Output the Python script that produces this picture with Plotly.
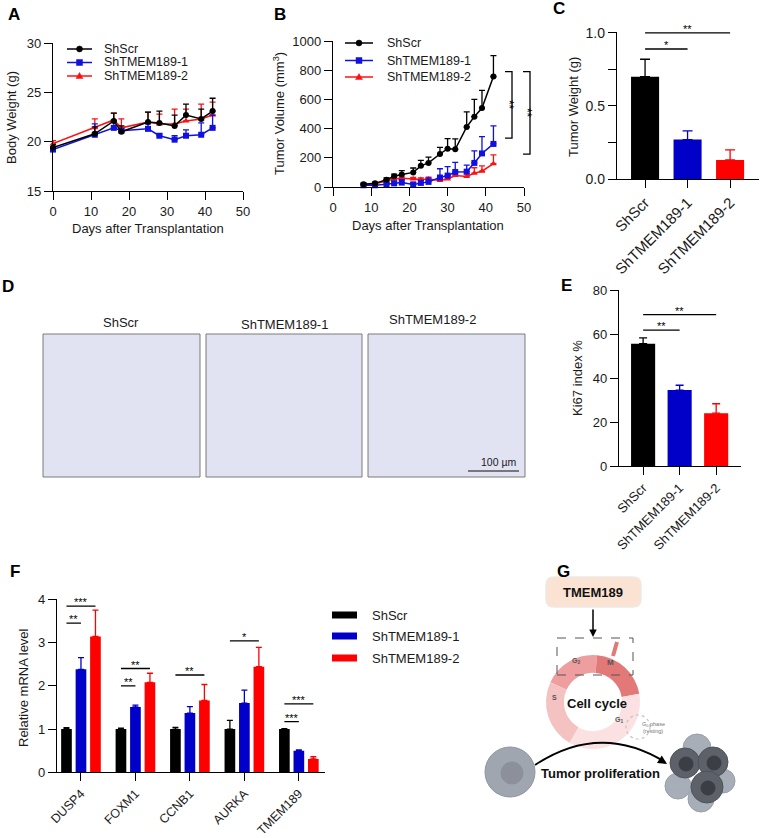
import plotly.graph_objects as go

W, H = 765, 838
FONT = "Arial, Liberation Sans, sans-serif"

groups = ["ShScr", "ShTMEM189-1", "ShTMEM189-2"]
line_colors = ["#000000", "#1010e0", "#ff1010"]
bar_colors = ["#000000", "#0000c8", "#ff0000"]
symbols = ["circle", "square", "triangle-up"]

# A: body weight (g), mean + upper error
days_a = [0, 11, 16, 18, 25, 28, 32, 35, 39, 42]
weight_scr = [19.4, 20.8, 22.1, 21.0, 22.0, 21.9, 21.6, 22.7, 22.3, 23.1]
weight_sh1 = [19.2, 20.7, 21.4, 21.1, 21.3, 20.6, 20.2, 20.6, 20.7, 21.4]
weight_sh2 = [19.8, 21.4, 22.2, 21.4, 22.0, 21.8, 21.8, 22.1, 22.3, 22.7]
weight_scr_err = [0.3, 0.7, 0.8, 0.6, 1.0, 1.2, 1.1, 1.1, 1.0, 1.3]
weight_sh1_err = [0.2, 1.1, 0.6, 0.2, 0.5, 0.2, 0.4, 0.6, 1.2, 1.3]
weight_sh2_err = [0.3, 0.9, 0.7, 0.9, 1.0, 1.0, 1.5, 1.2, 1.5, 1.3]

# B: tumor volume (mm3)
days_b = [8, 11, 14, 16, 18, 21, 23, 25, 28, 30, 32, 35, 37, 39, 42]
vol_scr = [18, 25, 50, 73, 85, 100, 145, 165, 226, 262, 258, 411, 482, 541, 757]
vol_sh1 = [12, 12, 18, 25, 30, 18, 28, 35, 65, 78, 103, 105, 165, 230, 295]
vol_sh2 = [15, 20, 42, 55, 60, 55, 52, 55, 45, 55, 78, 72, 95, 108, 160]
vol_scr_err = [7, 8, 12, 15, 27, 30, 37, 40, 46, 69, 72, 103, 118, 121, 143]
vol_sh1_err = [6, 6, 12, 15, 20, 12, 17, 27, 60, 62, 65, 45, 83, 115, 123]
vol_sh2_err = [5, 10, 8, 10, 10, 10, 10, 13, 15, 20, 14, 18, 37, 37, 60]
vol_brackets = [(790, 335, "**"), (790, 225, "**")]

# C: tumor weight (g)
tumor_weight = [0.70, 0.27, 0.13]
tumor_weight_err = [0.12, 0.06, 0.07]
c_sig = [(0, 2, 1.0, "**"), (0, 1, 0.89, "*")]

# E: Ki67 index %
ki67 = [55.6, 34.5, 24.0]
ki67_err = [2.6, 2.2, 4.3]
e_sig = [(0, 2, 68.8, "**"), (0, 1, 61.8, "**")]

# F: relative mRNA level
genes = ["DUSP4", "FOXM1", "CCNB1", "AURKA", "TMEM189"]
mrna_scr = [1.0, 1.0, 1.0, 1.0, 1.0]
mrna_sh1 = [2.38, 1.51, 1.37, 1.60, 0.50]
mrna_sh2 = [3.14, 2.08, 1.66, 2.44, 0.31]
mrna_scr_err = [0.03, 0.02, 0.04, 0.20, 0.01]
mrna_sh1_err = [0.27, 0.045, 0.15, 0.30, 0.02]
mrna_sh2_err = [0.61, 0.21, 0.37, 0.45, 0.05]
f_sig = [(0, 0, 2, 3.84, "***"), (0, 0, 1, 3.45, "**"),
         (1, 0, 2, 2.40, "**"), (1, 0, 1, 2.00, "**"),
         (2, 0, 2, 2.25, "**"),
         (3, 0, 2, 3.04, "*"),
         (4, 0, 2, 1.58, "***"), (4, 0, 1, 1.17, "***")]

# G: cell cycle ring (clockwise from G2)
phase_names = ["G2", "M", "G1", "S"]
phase_sizes = [70, 75, 130, 85]
phase_colors = ["#ee9e9e", "#e27878", "#fbe1e1", "#f5c2c2"]

bar_offsets = [-0.266, 0.0, 0.266]

fig = go.Figure()
ann = []
shapes = []


def X(p):
    return p / W


def Y(p):
    return 1 - p / H


def label(xp, yp, s, size=13, bold=False, xanchor="center", angle=0, color="#1a1a1a"):
    if bold:
        s = "<b>" + s + "</b>"
    ann.append(dict(x=X(xp), y=Y(yp), xref="paper", yref="paper", text=s, showarrow=False,
                    font=dict(size=size, color=color, family=FONT), xanchor=xanchor,
                    yanchor="middle", textangle=angle))


def up_err(err, color, width=3):
    return dict(type="data", symmetric=False, array=err, arrayminus=[0] * len(err),
                color=color, thickness=1.3, width=width)


def ax(**kw):
    d = dict(showline=True, linecolor="black", linewidth=1.3, ticks="outside", ticklen=8,
             tickwidth=1.3, tickcolor="black", showgrid=False, zeroline=False, automargin=False,
             tickfont=dict(size=13, color="#1a1a1a", family=FONT), fixedrange=True)
    d.update(kw)
    return d


# ---- A and B line charts
a_series = [(weight_scr, weight_scr_err), (weight_sh1, weight_sh1_err), (weight_sh2, weight_sh2_err)]
b_series = [(vol_scr, vol_scr_err), (vol_sh1, vol_sh1_err), (vol_sh2, vol_sh2_err)]
for i in [2, 1, 0]:
    for days, series, xa, ya in [(days_a, a_series, "x", "y"), (days_b, b_series, "x2", "y2")]:
        vals, err = series[i]
        fig.add_trace(go.Scatter(
            x=days, y=vals, mode="lines+markers", name=groups[i], xaxis=xa, yaxis=ya,
            line=dict(color=line_colors[i], width=1.5),
            marker=dict(symbol=symbols[i], size=6, color=line_colors[i]),
            error_y=up_err(err, line_colors[i]), cliponaxis=False, showlegend=False))

# ---- C and E bars
for i in range(3):
    fig.add_trace(go.Bar(x=[i], y=[tumor_weight[i]], width=0.66, xaxis="x3", yaxis="y3",
                         marker=dict(color=bar_colors[i], line=dict(width=0)),
                         error_y=up_err([tumor_weight_err[i]], bar_colors[i], 5), showlegend=False))
    fig.add_trace(go.Bar(x=[i], y=[ki67[i]], width=0.66, xaxis="x4", yaxis="y4",
                         marker=dict(color=bar_colors[i], line=dict(width=0)),
                         error_y=up_err([ki67_err[i]], bar_colors[i], 4), showlegend=False))

# ---- F grouped bars
f_series = [(mrna_scr, mrna_scr_err), (mrna_sh1, mrna_sh1_err), (mrna_sh2, mrna_sh2_err)]
for i, (vals, err) in enumerate(f_series):
    fig.add_trace(go.Bar(x=[g + bar_offsets[i] for g in range(len(genes))], y=vals, width=0.196,
                         xaxis="x5", yaxis="y5", marker=dict(color=bar_colors[i], line=dict(width=0)),
                         error_y=up_err(err, bar_colors[i], 3), showlegend=False))


# ---- significance marks
def sig_line(xa, ya, x0, x1, y, s, size=11):
    shapes.append(dict(type="line", xref=xa, yref=ya, x0=x0, x1=x1, y0=y, y1=y,
                       line=dict(color="black", width=1.3)))
    ann.append(dict(x=(x0 + x1) / 2, y=y, xref=xa, yref=ya, text=s, showarrow=False,
                    font=dict(size=size, color="black", family=FONT), yanchor="bottom", yshift=-4))


for a, b, y, s in c_sig:
    sig_line("x3", "y3", a, b, y, s)
for a, b, y, s in e_sig:
    sig_line("x4", "y4", a, b, y, s)
for g, a, b, y, s in f_sig:
    sig_line("x5", "y5", g + bar_offsets[a], g + bar_offsets[b], y, s)

for k, (top, bot, s) in enumerate(vol_brackets):
    xb = [512, 530][k]
    shapes.append(dict(type="path", xref="paper", yref="y2",
                       path=f"M{X(xb - 7)},{top}L{X(xb)},{top}L{X(xb)},{bot}L{X(xb - 7)},{bot}",
                       line=dict(color="black", width=1.3)))
    ann.append(dict(x=X(xb + 6), y=(top + bot) / 2, xref="paper", yref="y2", text=s, showarrow=False,
                    textangle=90, font=dict(size=12, color="black", family=FONT)))


# ---- legends
def line_legend(x0, x1, xt, ys):
    for i, y in enumerate(ys):
        c = line_colors[i]
        shapes.append(dict(type="line", xref="paper", yref="paper", x0=X(x0), x1=X(x1), y0=Y(y), y1=Y(y),
                           line=dict(color=c, width=1.5)))
        m = dict(xref="paper", yref="paper", xsizemode="pixel", ysizemode="pixel",
                 xanchor=X((x0 + x1) / 2), yanchor=Y(y), fillcolor=c, line=dict(color=c, width=0.5))
        if symbols[i] == "circle":
            m.update(type="circle", x0=-3, x1=3, y0=-3, y1=3)
        elif symbols[i] == "square":
            m.update(type="rect", x0=-3, x1=3, y0=-3, y1=3)
        else:
            m.update(type="path", path="M-3.5,-2.5L3.5,-2.5L0,3.5Z")
        shapes.append(m)
        label(xt, y, groups[i], 12.5, xanchor="left")


line_legend(67, 92, 102, [49, 62.5, 76])
line_legend(345, 373, 385, [43, 60.5, 77])
for i, y in enumerate([615, 636, 658]):
    shapes.append(dict(type="rect", xref="paper", yref="paper", x0=X(332), x1=X(357), y0=Y(y + 3.5),
                       y1=Y(y - 3.5), fillcolor=bar_colors[i], line=dict(width=0)))
    label(370, y, groups[i], 13, xanchor="left")

# ---- axis titles and panel letters
label(11, 118, "Body Weight (g)", angle=-90)
label(148, 228, "Days after Transplantation")
label(279, 114, "Tumor Volume (mm<sup>3</sup>)", angle=-90)
label(428, 226, "Days after Transplantation")
label(573, 107, "Tumor Weight (g)", angle=-90)
label(578, 378, "Ki67 index %", angle=-90)
label(23, 688, "Relative mRNA level", angle=-90)
for s, xp, yp in [("A", 14, 15), ("B", 280, 15), ("C", 559, 9), ("D", 8, 286),
                  ("E", 566, 285), ("F", 15, 571), ("G", 563, 571)]:
    label(xp, yp, s, 17, True, color="black")

# ---- D: IHC image panels
for (x0, x1), xt, yt, t in zip([(43, 200), (206, 362), (368, 525)], [121, 284, 432], [322, 324, 320], groups):
    shapes.append(dict(type="rect", xref="paper", yref="paper", x0=X(x0), x1=X(x1), y0=Y(477), y1=Y(334),
                       fillcolor="#e2e3f2", line=dict(color="#7a7a7a", width=1)))
    label(xt, yt, t, 13)
shapes.append(dict(type="line", xref="paper", yref="paper", x0=X(468), x1=X(519), y0=Y(471), y1=Y(471),
                   line=dict(color="#555", width=1.5)))
label(498, 462, "100 µm", 10.5)


# ---- G: schematic
def P(x, y):
    return f"{X(x):.5f},{Y(y):.5f}"


def rrect(x0, y0, x1, y1, r):
    return ("M" + P(x0 + r, y0) + "L" + P(x1 - r, y0) + "Q" + P(x1, y0) + " " + P(x1, y0 + r)
            + "L" + P(x1, y1 - r) + "Q" + P(x1, y1) + " " + P(x1 - r, y1)
            + "L" + P(x0 + r, y1) + "Q" + P(x0, y1) + " " + P(x0, y1 - r)
            + "L" + P(x0, y0 + r) + "Q" + P(x0, y0) + " " + P(x0 + r, y0) + "Z")


def circ(cx, cy, r, fill, edge=None, dash=None, width=1):
    shapes.append(dict(type="circle", xref="paper", yref="paper", x0=X(cx - r), x1=X(cx + r),
                       y0=Y(cy + r), y1=Y(cy - r), fillcolor=fill,
                       line=dict(color=edge or fill, width=width, dash=dash)))


fig.add_trace(go.Pie(values=phase_sizes, labels=phase_names, marker=dict(colors=phase_colors),
                     hole=0.62, sort=False, direction="clockwise", rotation=-65, textinfo="none",
                     hoverinfo="skip", showlegend=False,
                     domain=dict(x=[X(546), X(640)], y=[Y(749), Y(655)])))

shapes.append(dict(type="path", xref="paper", yref="paper", path=rrect(546, 577, 641, 607, 8),
                   fillcolor="#fbe3d4", line=dict(color="#efe9e4", width=1.5)))
label(593, 592, "TMEM189", 13, True, color="#111")
ann.append(dict(x=X(593), y=Y(637), xref="paper", yref="paper", text="", showarrow=True, ax=0, ay=-29,
                arrowhead=2, arrowsize=1, arrowwidth=1.5, arrowcolor="black"))
shapes.append(dict(type="rect", xref="paper", yref="paper", x0=X(557), x1=X(633), y0=Y(675), y1=Y(638),
                   line=dict(color="#555", width=1, dash="dash")))
shapes.append(dict(type="line", xref="paper", yref="paper", x0=X(613), x1=X(617), y0=Y(656), y1=Y(642),
                   line=dict(color=phase_colors[1], width=4)))
label(576, 661, "G<sub>2</sub>", 7, True, color="#555")
label(610, 662, "M", 8, True, color="#555")
label(554, 697, "S", 7, True, color="#555")
label(619, 720, "G<sub>1</sub>", 7, True, color="#555")
label(597, 703, "Cell cycle", 13, True, color="#111")
circ(638, 727, 12, "rgba(0,0,0,0)", "#c4c4c4", "dot", 1.2)
label(653, 724, "G<sub>0</sub> phase", 5.5, color="#777")
label(653, 731, "(resting)", 5.5, color="#777")

# single cell
circ(510, 772, 25, "#a0a6b0", "#8f959f")
circ(512, 773, 11, "#8b909a")
# tumour cluster
for cx, cy, r in [(697, 748, 14), (678, 786, 13), (723, 781, 12), (701, 799, 13)]:
    circ(cx, cy, r, "#a7aeb8", "#98a0aa")
for cx, cy, r in [(685, 763, 15), (713, 762, 15), (707, 787, 16)]:
    circ(cx, cy, r, "#5d616a", "#4e525a")
    circ(cx + 1, cy + 1, 7, "#3b3e45")

shapes.append(dict(type="path", xref="paper", yref="paper",
                   path="M" + P(535, 765) + "Q" + P(600, 722) + " " + P(665, 762),
                   line=dict(color="black", width=1.8)))
ann.append(dict(x=X(667), y=Y(764), xref="paper", yref="paper", text="", showarrow=True, ax=-8, ay=-5,
                arrowhead=2, arrowsize=1, arrowwidth=1.8, arrowcolor="black"))
label(600, 773, "Tumor proliferation", 13, True, color="#111")

fig.update_layout(
    width=W, height=H, margin=dict(l=0, r=0, t=0, b=0, autoexpand=False),
    paper_bgcolor="white", plot_bgcolor="white", showlegend=False,
    font=dict(family=FONT, color="#1a1a1a"),
    xaxis=ax(domain=[X(53), X(243)], range=[0, 50], dtick=10, anchor="y"),
    yaxis=ax(domain=[Y(191), Y(43)], range=[15, 30], dtick=5, anchor="x"),
    xaxis2=ax(domain=[X(333), X(524)], range=[0, 50], dtick=10, anchor="y2"),
    yaxis2=ax(domain=[Y(187), Y(41)], range=[0, 1000], dtick=200, anchor="x2"),
    xaxis3=ax(domain=[X(617), X(759)], range=[-0.66, 2.68], tickvals=[0, 1, 2], ticktext=groups,
              tickangle=-45, tickfont=dict(size=15, color="#1a1a1a", family=FONT), anchor="y3"),
    yaxis3=ax(domain=[Y(179), Y(31.5)], range=[0, 1.01], tickvals=[0, 0.5, 1.0],
              ticktext=["0.0", "0.5", "1.0"], tickfont=dict(size=14, color="#1a1a1a", family=FONT),
              minor=dict(tickvals=[0.25, 0.75], ticks="outside", ticklen=8, tickwidth=1.3,
                         tickcolor="black"), anchor="x3"),
    xaxis4=ax(domain=[X(619), X(741)], range=[-0.66, 2.68], tickvals=[0, 1, 2], ticktext=groups,
              tickangle=-45, anchor="y4"),
    yaxis4=ax(domain=[Y(466), Y(290)], range=[0, 80], dtick=20, anchor="x4"),
    xaxis5=ax(domain=[X(57), X(325)], range=[-0.44, 4.48], tickvals=list(range(len(genes))),
              ticktext=genes, tickangle=-45, tickfont=dict(size=12.5, color="#1a1a1a", family=FONT),
              anchor="y5"),
    yaxis5=ax(domain=[Y(772.3), Y(599.3)], range=[0, 4], dtick=1, anchor="x5"),
    annotations=ann, shapes=shapes,
)

# the page's default body margin would shift the figure by 8px
fig.write_html("out.html", config={"displayModeBar": False},
               post_script="document.body.style.margin='0';document.body.style.overflow='hidden';")
